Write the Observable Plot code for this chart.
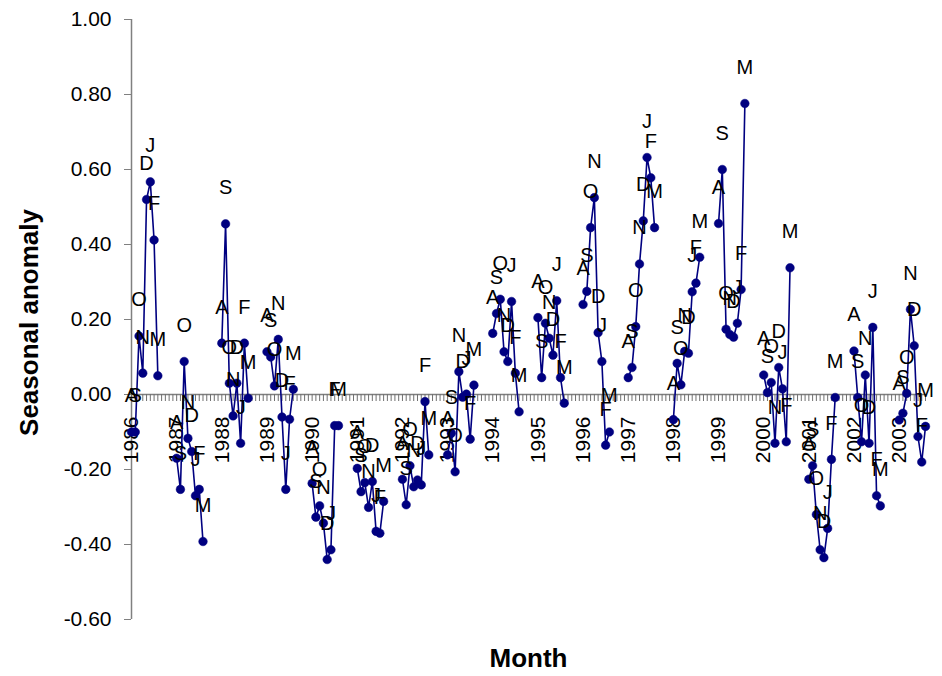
<!DOCTYPE html>
<html>
<head>
<meta charset="utf-8">
<script src="https://cdn.jsdelivr.net/npm/d3@7"></script>
<script src="https://cdn.jsdelivr.net/npm/@observablehq/plot@0.6"></script>
<style>
  html, body { margin: 0; padding: 0; background: #ffffff; }
  #chart svg { display: block; overflow: visible; }
</style>
</head>
<body>
<div id="chart"></div>
<script>
// Season start years (each season runs August .. March)
const seasonYears = [1986, 1987, 1988, 1989, 1990, 1991, 1992, 1993, 1994, 1995, 1996, 1997, 1998, 1999, 2000, 2001, 2002, 2003];
// Month initials shown as point labels (Aug..Mar)
const monthLetters = ["A", "S", "O", "N", "D", "J", "F", "M"];
// Monthly categories per year on the axis (Apr..Jul are blank)
const monthsPerYear = 12;

// Seasonal anomaly values, one array per season (A S O N D J F M)
const s1986 = [-0.10, -0.10, 0.156, 0.057, 0.52, 0.567, 0.412, 0.05];
const s1987 = [-0.17, -0.253, 0.088, -0.117, -0.152, -0.27, -0.253, -0.392];
const s1988 = [0.137, 0.455, 0.03, -0.057, 0.03, -0.13, 0.137, -0.01];
const s1989 = [0.114, 0.10, 0.023, 0.147, -0.06, -0.253, -0.066, 0.014];
const s1990 = [-0.237, -0.327, -0.297, -0.343, -0.44, -0.414, -0.083, -0.083];
const s1991 = [-0.197, -0.259, -0.235, -0.301, -0.232, -0.365, -0.37, -0.285];
const s1992 = [-0.226, -0.294, -0.19, -0.246, -0.228, -0.241, -0.019, -0.161];
const s1993 = [-0.161, -0.103, -0.206, 0.061, -0.007, 0.001, -0.119, 0.025];
const s1994 = [0.163, 0.216, 0.254, 0.114, 0.088, 0.248, 0.057, -0.046];
const s1995 = [0.205, 0.045, 0.19, 0.15, 0.105, 0.25, 0.045, -0.023];
const s1996 = [0.24, 0.275, 0.445, 0.525, 0.165, 0.088, -0.135, -0.10];
const s1997 = [0.045, 0.072, 0.181, 0.348, 0.463, 0.632, 0.578, 0.445];
const s1998 = [-0.067, 0.083, 0.026, 0.115, 0.11, 0.274, 0.297, 0.366];
const s1999 = [0.456, 0.60, 0.174, 0.16, 0.153, 0.19, 0.28, 0.776];
const s2000 = [0.052, 0.005, 0.032, -0.13, 0.072, 0.015, -0.126, 0.338];
const s2001 = [-0.226, -0.19, -0.32, -0.414, -0.435, -0.357, -0.173, -0.008];
const s2002 = [0.116, -0.008, -0.126, 0.052, -0.13, 0.179, -0.27, -0.297];
const s2003 = [-0.068, -0.05, 0.003, 0.227, 0.13, -0.112, -0.18, -0.085];

const seasons = [s1986, s1987, s1988, s1989, s1990, s1991, s1992, s1993, s1994, s1995,
                 s1996, s1997, s1998, s1999, s2000, s2001, s2002, s2003];

// Y-axis tick values
const yTicks = [-0.6, -0.4, -0.2, 0, 0.2, 0.4, 0.6, 0.8, 1.0];

// Build the table for the library
const data = [];
seasons.forEach((vals, s) => {
  vals.forEach((v, i) => {
    data.push({idx: s * monthsPerYear + i, value: v, letter: monthLetters[i], season: seasonYears[s]});
  });
});
const lastIdx = (seasonYears.length - 1) * monthsPerYear + monthLetters.length - 1;
const monthTicks = d3.range(0, lastIdx + 1);
const yearTicks = seasonYears.map((y, s) => ({idx: s * monthsPerYear, label: String(y)}));

const FONT = '"Liberation Sans", Arial, Helvetica, sans-serif';
const NAVY = "#000080";

const chart = Plot.plot({
  width: 942,
  height: 676,
  marginLeft: 131,
  marginRight: 17,
  marginTop: 19,
  marginBottom: 57,
  style: {fontFamily: FONT, fontSize: "20px", background: "#ffffff", color: "#000"},
  x: {domain: [0, lastIdx], axis: null},
  y: {domain: [-0.6, 1.0], axis: null},
  marks: [
    // y axis line
    Plot.ruleX([0], {y1: -0.6, y2: 1.0, stroke: "#808080", strokeWidth: 1.5}),
    Plot.axisY(yTicks, {
      tickFormat: d => d.toFixed(2),
      tickSize: 7,
      tickPadding: 13,
      stroke: "#808080",
      fill: "#000",
      fontSize: 21,
      label: null
    }),
    // x axis along zero with month tick marks
    Plot.ruleY([0], {x1: 0, x2: lastIdx, stroke: "#808080", strokeWidth: 1.5}),
    Plot.ruleX(monthTicks, {x: d => d, y1: 0, y2: 0, insetBottom: -7, stroke: "#707070", strokeWidth: 1}),
    // year labels
    Plot.text(yearTicks, {
      x: "idx", y: 0, text: "label", rotate: -90, textAnchor: "end",
      dy: 22, fontSize: 21, fill: "#000"
    }),
    // series
    Plot.line(data, {x: "idx", y: "value", z: "season", stroke: NAVY, strokeWidth: 1.6}),
    Plot.dot(data, {x: "idx", y: "value", r: 4.3, fill: NAVY, stroke: NAVY, strokeWidth: 0.5}),
    Plot.text(data, {x: "idx", y: "value", text: "letter", dy: -36, fontSize: 20, fill: "#000"}),
    // axis titles
    Plot.text(["Seasonal anomaly"], {
      frameAnchor: "left", textAnchor: "middle", rotate: -90, dx: -102, dy: 3,
      fontSize: 26, fontWeight: "bold", fill: "#000"
    }),
    Plot.text(["Month"], {
      frameAnchor: "bottom", textAnchor: "middle", dy: 47, fontSize: 26, fontWeight: "bold", fill: "#000"
    })
  ]
});

document.getElementById("chart").appendChild(chart);
</script>
</body>
</html>
